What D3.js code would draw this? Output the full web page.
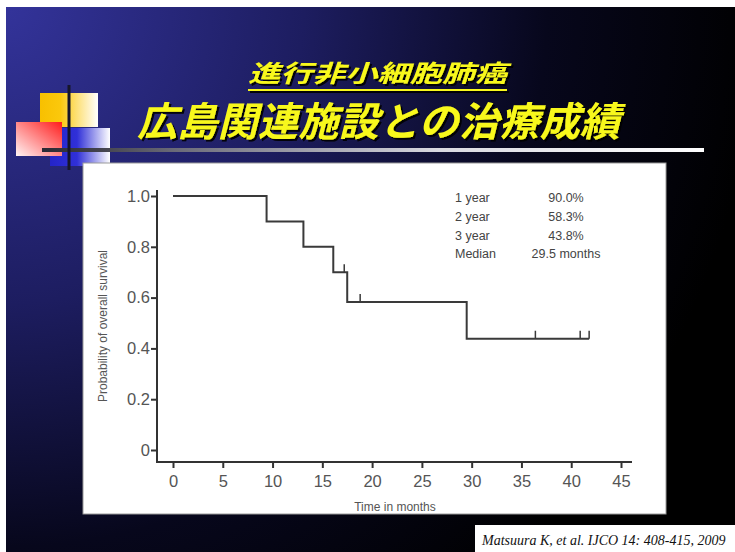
<!DOCTYPE html>
<html>
<head>
<meta charset="utf-8">
<script src="https://cdn.jsdelivr.net/npm/d3@7"></script>
<style>
  body { margin: 0; background: #fff; }
  svg { display: block; }
</style>
</head>
<body>
<div id="chart"></div>
<script>
// Kaplan-Meier steps (months, survival probability)
const kmTime = [0, 9.4, 13.1, 16.1, 17.5, 29.5, 41.8];
const kmSurv = [1.0, 0.9, 0.8, 0.7, 0.583, 0.438, 0.438];
// censored observations
const censorTime = [17.2, 18.8, 36.4, 40.9, 41.8];
const censorSurv = [0.7, 0.583, 0.438, 0.438, 0.438];

const xTicks = [0, 5, 10, 15, 20, 25, 30, 35, 40, 45];
const yTicks = [0, 0.2, 0.4, 0.6, 0.8, 1.0];

const statLabels = ["1 year", "2 year", "3 year", "Median"];
const statValues = ["90.0%", "58.3%", "43.8%", "29.5 months"];

const titleLine1 = "進行非小細胞肺癌";
const titleLine2 = "広島関連施設との治療成績";
const citation = "Matsuura K, et al. IJCO 14: 408-415, 2009";

const W = 735, H = 552;
const svg = d3.select("#chart").append("svg")
    .attr("width", W)
    .attr("height", H);

const defs = svg.append("defs");

// slide background: blue in the top-left, fading to black
let bg = defs.append("radialGradient")
    .attr("id", "bg")
    .attr("gradientUnits", "userSpaceOnUse")
    .attr("cx", 0).attr("cy", 0).attr("r", 760);
[["0%", "#34349c"], ["40%", "#1d1d60"], ["72%", "#07071c"], ["100%", "#000000"]]
    .forEach(s => bg.append("stop").attr("offset", s[0]).attr("stop-color", s[1]));

function linGrad(id, x1, y1, x2, y2, stops) {
    let g = defs.append("linearGradient").attr("id", id)
        .attr("x1", x1).attr("y1", y1).attr("x2", x2).attr("y2", y2);
    stops.forEach(s => g.append("stop").attr("offset", s[0]).attr("stop-color", s[1]));
}
linGrad("yellowG", 0, 0, 1, 0, [["0%", "#f8c000"], ["35%", "#fbc80c"], ["100%", "#ffffff"]]);
linGrad("redG", 1, 0, 0, 1, [["0%", "#ff1c1c"], ["100%", "#fff4f4"]]);
linGrad("blueG", 0, 0, 1, 0, [["0%", "#2424c8"], ["45%", "#3030d8"], ["100%", "#ffffff"]]);
linGrad("ruleG", 0, 0, 1, 0, [["0%", "#2a2a34"], ["6%", "#3a3a44"], ["20%", "#6a6a78"], ["60%", "#d8d8e0"], ["100%", "#ffffff"]]);

let shadow = defs.append("filter").attr("id", "shadow")
    .attr("x", "-5%").attr("y", "-20%").attr("width", "110%").attr("height", "140%");
shadow.append("feDropShadow")
    .attr("dx", 2).attr("dy", 2).attr("stdDeviation", 0.6)
    .attr("flood-color", "#000").attr("flood-opacity", 0.9);

svg.append("rect")
    .attr("x", 6).attr("y", 7)
    .attr("width", W - 6).attr("height", H - 7)
    .attr("fill", "url(#bg)");

// decoration in the top-left corner
let deco = svg.append("g");
deco.append("rect").attr("x", 40).attr("y", 93).attr("width", 58).attr("height", 34).attr("fill", "url(#yellowG)");
deco.append("rect").attr("x", 50).attr("y", 128).attr("width", 60).attr("height", 38).attr("fill", "url(#blueG)");
deco.append("rect").attr("x", 16).attr("y", 122).attr("width", 46).attr("height", 34).attr("fill", "url(#redG)");
deco.append("rect").attr("x", 42).attr("y", 148).attr("width", 662).attr("height", 4).attr("fill", "url(#ruleG)");
deco.append("rect").attr("x", 67.5).attr("y", 85).attr("width", 3).attr("height", 85).attr("fill", "#16162a");

// titles
let title = svg.append("g")
    .attr("font-family", "'Noto Sans CJK JP', sans-serif")
    .attr("font-weight", "bold")
    .attr("font-style", "italic")
    .attr("fill", "#f8f81c")
    .attr("filter", "url(#shadow)");

title.append("text")
    .attr("x", 248).attr("y", 82)
    .attr("font-size", 24)
    .attr("textLength", 259)
    .attr("lengthAdjust", "spacingAndGlyphs")
    .text(titleLine1);
title.append("rect")
    .attr("x", 248).attr("y", 89).attr("width", 259).attr("height", 2);

title.append("text")
    .attr("x", 137).attr("y", 136)
    .attr("font-size", 40)
    .attr("textLength", 483)
    .attr("lengthAdjust", "spacingAndGlyphs")
    .text(titleLine2);

// chart panel
svg.append("rect")
    .attr("x", 83).attr("y", 163)
    .attr("width", 583).attr("height", 351)
    .attr("fill", "#fff")
    .attr("stroke", "#9a9a9a")
    .attr("stroke-width", 1);

const x = d3.scaleLinear().domain([0, 45]).range([173, 621]);
const y = d3.scaleLinear().domain([0, 1]).range([450, 196]);

const axisColor = "#333";
const labelColor = "#555";
const font = "'Liberation Sans', Arial, sans-serif";

let xAxis = svg.append("g")
    .attr("transform", "translate(0,462)")
    .call(d3.axisBottom(x).tickValues(xTicks).tickSize(6).tickPadding(7).tickFormat(d3.format("d")));
let yAxis = svg.append("g")
    .attr("transform", "translate(157,0)")
    .call(d3.axisLeft(y).tickValues(yTicks).tickSize(6).tickPadding(1)
        .tickFormat(d => d === 0 ? "0" : d3.format(".1f")(d)));

[xAxis, yAxis].forEach(a => {
    a.select(".domain").remove();
    a.selectAll(".tick line").attr("stroke", axisColor).attr("stroke-width", 2);
    a.selectAll(".tick text")
        .attr("fill", labelColor)
        .attr("font-family", font)
        .attr("font-size", 16.5);
});

// offset axis lines
svg.append("line")
    .attr("x1", 157).attr("x2", 632).attr("y1", 462).attr("y2", 462)
    .attr("stroke", axisColor).attr("stroke-width", 2);
svg.append("line")
    .attr("x1", 157).attr("x2", 157).attr("y1", 190).attr("y2", 463)
    .attr("stroke", axisColor).attr("stroke-width", 2);

svg.append("text")
    .attr("transform", "translate(107,326) rotate(-90)")
    .attr("text-anchor", "middle")
    .attr("font-family", font)
    .attr("font-size", 12)
    .attr("fill", labelColor)
    .text("Probability of overall survival");

svg.append("text")
    .attr("x", 395).attr("y", 511)
    .attr("text-anchor", "middle")
    .attr("font-family", font)
    .attr("font-size", 12)
    .attr("fill", labelColor)
    .text("Time in months");

// survival curve
const kmData = kmTime.map((t, i) => ({t: t, s: kmSurv[i]}));
const line = d3.line()
    .x(d => x(d.t))
    .y(d => y(d.s))
    .curve(d3.curveStepAfter);

svg.append("path")
    .datum(kmData)
    .attr("d", line)
    .attr("fill", "none")
    .attr("stroke", "#3a3a3a")
    .attr("stroke-width", 2);

svg.selectAll("line.censor")
    .data(censorTime.map((t, i) => ({t: t, s: censorSurv[i]})))
    .enter().append("line")
    .attr("class", "censor")
    .attr("x1", d => x(d.t)).attr("x2", d => x(d.t))
    .attr("y1", d => y(d.s)).attr("y2", d => y(d.s) - 8)
    .attr("stroke", "#3a3a3a")
    .attr("stroke-width", 1.5);

// summary statistics
let stats = svg.append("g")
    .attr("font-family", font)
    .attr("font-size", 12.5)
    .attr("fill", "#444");
stats.selectAll("text.lab")
    .data(statLabels)
    .enter().append("text")
    .attr("class", "lab")
    .attr("x", 455)
    .attr("y", (d, i) => 202 + i * 18.8)
    .text(d => d);
stats.selectAll("text.val")
    .data(statValues)
    .enter().append("text")
    .attr("class", "val")
    .attr("x", 566)
    .attr("text-anchor", "middle")
    .attr("y", (d, i) => 202 + i * 18.8)
    .text(d => d);

// citation
svg.append("rect")
    .attr("x", 475).attr("y", 525)
    .attr("width", W - 475).attr("height", H - 525)
    .attr("fill", "#fff");
svg.append("text")
    .attr("x", 482).attr("y", 545)
    .attr("font-family", "'Liberation Serif', 'Times New Roman', serif")
    .attr("font-style", "italic")
    .attr("font-size", 14)
    .attr("fill", "#111")
    .text(citation);
</script>
</body>
</html>
